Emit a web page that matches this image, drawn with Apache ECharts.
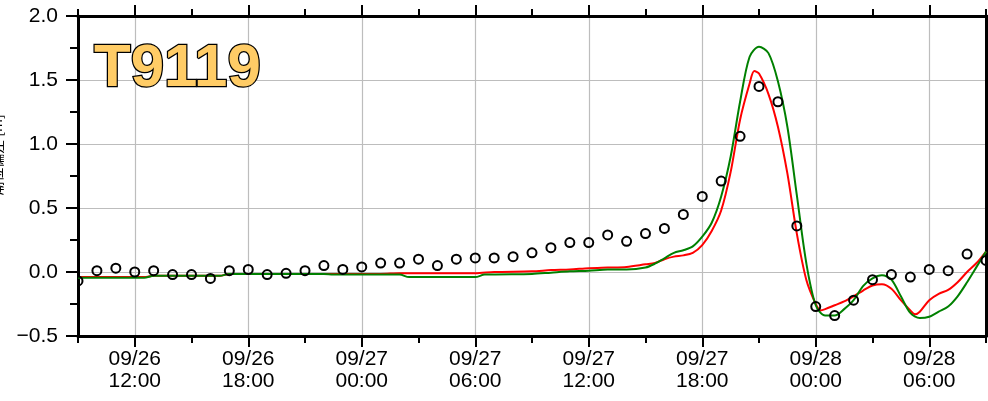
<!DOCTYPE html>
<html>
<head>
<meta charset="utf-8">
<script src="https://cdn.jsdelivr.net/npm/echarts@6/dist/echarts.min.js"></script>
<style>
  html, body { margin: 0; padding: 0; background: #fff; }
  #chart { width: 988px; height: 401px; }
</style>
</head>
<body>
<div id="chart"></div>
<script>
// Station tag shown in the upper-left corner
const stationName = 'T9119';
const yAxisTitle = '潮位偏差 [m]';

// Time axis: 09/26 09:00 to 09/28 09:00 in 15-minute slots
const startMonth = 9, startDay = 26, startHour = 9;
const spanHours = 48;
const slotsPerHour = 4;

// Observed anomaly [m], hourly from 09/26 09:00
const obsValues = [
  -0.07, 0.01, 0.03, 0.00, 0.01, -0.02, -0.02, -0.05, 0.01, 0.02,
  -0.02, -0.01, 0.01, 0.05, 0.02, 0.04, 0.07, 0.07, 0.10, 0.05,
  0.10, 0.11, 0.11, 0.12, 0.15, 0.19, 0.23, 0.23, 0.29, 0.24,
  0.30, 0.34, 0.45, 0.59, 0.71, 1.06, 1.45, 1.33, 0.36, -0.27,
  -0.34, -0.22, -0.06, -0.02, -0.04, 0.02, 0.01, 0.14, 0.09
];

// Model run A (red): hours since 09/26 09:00 and anomaly [m]
const redHours = [
  0, 3.5, 4, 7.5, 8, 16, 17, 21, 22, 24, 25, 26, 27, 28, 29, 30, 30.5, 31, 31.5,
  32, 32.5, 33, 33.5, 34, 34.5, 35, 35.5, 35.75, 36, 36.5, 37, 37.5, 38, 38.5,
  39, 39.25, 39.5, 40, 40.5, 41, 41.5, 42, 42.5, 43, 43.5, 44, 44.25, 44.5,
  45, 45.5, 46, 46.5, 47, 47.5, 48
];
const redValues = [
  -0.04, -0.04, -0.03, -0.03, -0.015, -0.015, -0.01, -0.01, 0.0, 0.005, 0.015,
  0.02, 0.03, 0.035, 0.04, 0.06, 0.07, 0.10, 0.12,
  0.13, 0.15, 0.21, 0.32, 0.48, 0.78, 1.19, 1.47, 1.57, 1.55, 1.39, 1.135, 0.77, 0.30, -0.06,
  -0.25, -0.30, -0.29, -0.26, -0.23, -0.19, -0.145, -0.105, -0.095, -0.13, -0.22, -0.30, -0.33, -0.31,
  -0.22, -0.17, -0.14, -0.08, 0.0, 0.07, 0.16
];

// Model run B (green): hours since 09/26 09:00 and anomaly [m]
const greenHours = [
  0, 3.5, 4, 7.5, 8, 13, 13.5, 17, 17.5, 21, 21.5, 24, 25, 26, 27, 28, 29, 30, 30.5,
  31, 31.5, 32, 32.5, 33, 33.5, 34, 34.5, 35, 35.5, 36, 36.5, 37, 37.5, 38, 38.5,
  39, 39.5, 40, 40.5, 41, 41.5, 42, 42.5, 43, 43.5, 44, 44.5, 45, 45.5, 46,
  46.5, 47, 47.5, 48
];
const greenValues = [
  -0.045, -0.045, -0.03, -0.03, -0.015, -0.015, -0.02, -0.02, -0.04, -0.04, -0.02, -0.015,
  -0.005, 0.005, 0.01, 0.02, 0.02, 0.035, 0.065,
  0.107, 0.15, 0.17, 0.20, 0.276, 0.385, 0.59, 0.90, 1.33, 1.68, 1.76, 1.71, 1.49, 1.135, 0.60, 0.07,
  -0.26, -0.34, -0.34, -0.29, -0.22, -0.11, -0.05, -0.025, -0.06, -0.19, -0.32, -0.36, -0.35, -0.31, -0.27,
  -0.19, -0.08, 0.04, 0.16
];

// Value axis range
const yMin = -0.5, yMax = 2.0, yStep = 0.5;

const pad = n => String(n).padStart(2, '0');
const categories = [];
for (let i = 0; i <= spanHours * slotsPerHour; i++) {
  const d = new Date(Date.UTC(2019, startMonth - 1, startDay, startHour, i * 60 / slotsPerHour));
  categories.push(pad(d.getUTCMonth() + 1) + '/' + pad(d.getUTCDate()) + '\n' +
                  pad(d.getUTCHours()) + ':' + pad(d.getUTCMinutes()));
}

const toPairs = (hours, values) => hours.map((h, i) => [h * slotsPerHour, values[i]]);
const obsPairs = obsValues.map((v, i) => [i * slotsPerHour, v]);

const slot6h = 6 * slotsPerHour;
const slot3h = 3 * slotsPerHour;
const isMajor = i => i % slot6h === slot3h;
const isMinor = i => i % slot6h === 0;

const FONT = '"Liberation Sans", Arial, Helvetica, sans-serif';
const gridColor = '#bdbdbd';

function xAxisDef(position, major) {
  return {
    type: 'category',
    data: categories,
    boundaryGap: false,
    position: position,
    axisLine: { show: major, onZero: false, lineStyle: { color: '#000', width: 3 } },
    axisTick: {
      show: true,
      interval: major ? isMajor : isMinor,
      length: major ? 11 : 7,
      lineStyle: { color: '#000', width: 2 }
    },
    axisLabel: {
      show: major && position === 'bottom',
      interval: isMajor,
      color: '#000',
      fontFamily: FONT,
      fontSize: 21,
      lineHeight: 22,
      margin: 12
    },
    splitLine: {
      show: major && position === 'bottom',
      interval: isMajor,
      lineStyle: { color: gridColor, width: 1.2 }
    }
  };
}

function yAxisDef(position, withLabels) {
  return {
    type: 'value',
    min: yMin,
    max: yMax,
    interval: yStep,
    position: position,
    axisLine: { show: true, onZero: false, lineStyle: { color: '#000', width: 3 } },
    axisTick: { show: true, length: 12, lineStyle: { color: '#000', width: 2 } },
    minorTick: { show: true, splitNumber: 2, length: 8, lineStyle: { color: '#000', width: 2 } },
    axisLabel: {
      show: withLabels,
      color: '#000',
      fontFamily: FONT,
      fontSize: 21,
      margin: 20,
      formatter: v => v.toFixed(1).replace('-', '\u2212')
    },
    splitLine: { show: withLabels, lineStyle: { color: gridColor, width: 1.2 } },
    minorSplitLine: { show: false }
  };
}

// Hollow observation circles, clipped to the plot frame
function renderObs(params, api) {
  const p = api.coord([api.value(0), api.value(1)]);
  const cs = params.coordSys;
  return {
    type: 'circle',
    shape: { cx: p[0], cy: p[1], r: 4.5 },
    style: { fill: 'none', stroke: '#000', lineWidth: 2 },
    clipPath: { type: 'rect', shape: { x: cs.x, y: cs.y, width: cs.width, height: cs.height } }
  };
}

const chart = echarts.init(document.getElementById('chart'), null, { renderer: 'canvas' });
chart.setOption({
  animation: false,
  backgroundColor: '#fff',
  grid: { left: 78, right: 2, top: 16, bottom: 65, containLabel: false },
  xAxis: [
    xAxisDef('bottom', true),
    xAxisDef('bottom', false),
    xAxisDef('top', true),
    xAxisDef('top', false)
  ],
  yAxis: [
    yAxisDef('left', true),
    yAxisDef('right', false)
  ],
  series: [
    {
      name: 'red',
      type: 'line',
      xAxisIndex: 0, yAxisIndex: 0,
      data: toPairs(redHours, redValues),
      showSymbol: false,
      smooth: 0.3,
      lineStyle: { color: '#ff0000', width: 2 },
      z: 2
    },
    {
      name: 'green',
      type: 'line',
      xAxisIndex: 0, yAxisIndex: 0,
      data: toPairs(greenHours, greenValues),
      showSymbol: false,
      smooth: 0.3,
      lineStyle: { color: '#008000', width: 2 },
      z: 3
    },
    {
      name: 'obs',
      type: 'custom',
      xAxisIndex: 0, yAxisIndex: 0,
      data: obsPairs,
      encode: { x: 0, y: 1 },
      renderItem: renderObs,
      z: 4
    }
  ],
  graphic: [
    {
      type: 'text',
      x: 94,
      y: 69,
      z: 10,
      style: {
        text: stationName,
        font: 'bold 60px ' + FONT,
        fill: '#ffcc66',
        stroke: '#000',
        lineWidth: 2.5,
        align: 'left',
        verticalAlign: 'middle'
      }
    },
    {
      type: 'text',
      x: -3,
      y: 155,
      rotation: Math.PI / 2,
      style: {
        text: yAxisTitle,
        font: '14px "Noto Sans CJK JP", sans-serif',
        fill: '#000',
        align: 'center',
        verticalAlign: 'middle'
      }
    }
  ]
});
</script>
</body>
</html>
